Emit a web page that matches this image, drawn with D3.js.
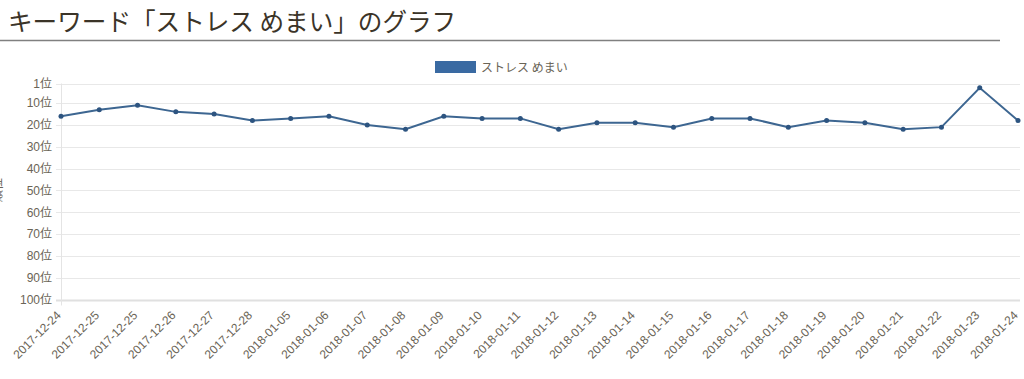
<!DOCTYPE html>
<html>
<head>
<meta charset="utf-8">
<script src="https://cdn.jsdelivr.net/npm/d3@7"></script>
<style>
  html, body { margin: 0; padding: 0; background: #fff; }
  svg { display: block; }
</style>
</head>
<body>
<svg id="chart" width="1024" height="379"></svg>
<script>
const title = "キーワード「ストレス めまい」のグラフ";
const seriesName = "ストレス めまい";
const yAxisTitle = "順位";
const categories = [
  "2017-12-24", "2017-12-25", "2017-12-25", "2017-12-26", "2017-12-27", "2017-12-28",
  "2018-01-05", "2018-01-06", "2018-01-07", "2018-01-08", "2018-01-09", "2018-01-10",
  "2018-01-11", "2018-01-12", "2018-01-13", "2018-01-14", "2018-01-15", "2018-01-16",
  "2018-01-17", "2018-01-18", "2018-01-19", "2018-01-20", "2018-01-21", "2018-01-22",
  "2018-01-23", "2018-01-24"
];
const ranks = [16, 13, 11, 14, 15, 18, 17, 16, 20, 22, 16, 17, 17, 22, 19, 19, 21, 17, 17, 21, 18, 19, 22, 21, 3, 18];
const yTicks = [1, 10, 20, 30, 40, 50, 60, 70, 80, 90, 100];

const svg = d3.select("#chart");
const textColor = "#6a6456";
const lineColor = "#3d6691";
const fontLatin = "'Liberation Sans', 'Noto Sans CJK JP', sans-serif";
const fontCJK = "'Noto Sans CJK JP', sans-serif";

// Title
svg.append("text")
  .attr("x", 8).attr("y", 31)
  .attr("font-family", fontCJK)
  .attr("font-size", 24.6)
  .attr("fill", "#3b3428")
  .text(title);
svg.append("line")
  .attr("x1", 0).attr("x2", 1000)
  .attr("y1", 40.5).attr("y2", 40.5)
  .attr("stroke", "#808080").attr("stroke-width", 1.5);

// Legend
svg.append("rect")
  .attr("x", 435).attr("y", 61).attr("width", 41).attr("height", 12)
  .attr("fill", "#3a6aa2");
svg.append("text")
  .attr("x", 481).attr("y", 71.5)
  .attr("font-family", fontCJK).attr("font-size", 12)
  .attr("fill", textColor)
  .text(seriesName);

// Scales
const x = d3.scalePoint().domain(d3.range(categories.length)).range([61, 1018]);
const y = d3.scaleLinear().domain([1, 100]).range([83.5, 299.5]);

// Grid
const grid = svg.append("g");
grid.selectAll("line.h").data(yTicks).join("line")
  .attr("x1", 56).attr("x2", 1020)
  .attr("y1", d => Math.round(y(d)) + 0.5).attr("y2", d => Math.round(y(d)) + 0.5)
  .attr("stroke", d => d === 100 ? "#e0e0e0" : "#e8e8e8")
  .attr("stroke-width", d => d === 100 ? 2 : 1);
grid.append("line")
  .attr("x1", 61.5).attr("x2", 61.5)
  .attr("y1", y(1)).attr("y2", y(100) + 6)
  .attr("stroke", "#e4e4e4");

// Y axis labels
const yAxis = d3.axisLeft(y).tickValues(yTicks).tickSize(0).tickPadding(0).tickFormat(d => d + "位");
const gy = svg.append("g").attr("transform", "translate(52,0)").call(yAxis);
gy.select(".domain").remove();
gy.selectAll("text")
  .attr("font-family", fontLatin).attr("font-size", 12)
  .attr("fill", textColor);

// Y axis title (mostly outside the left edge, as in the reference)
svg.append("text")
  .attr("transform", "translate(2,190) rotate(-90)")
  .attr("text-anchor", "middle")
  .attr("font-family", fontCJK).attr("font-size", 12)
  .attr("fill", textColor)
  .text(yAxisTitle);

// X axis labels
const xAxis = d3.axisBottom(x).tickSize(0).tickFormat(i => categories[i]);
const gx = svg.append("g").attr("transform", "translate(0,300)").call(xAxis);
gx.select(".domain").remove();
gx.selectAll("text")
  .attr("font-family", fontLatin).attr("font-size", 12)
  .attr("fill", textColor)
  .attr("text-anchor", "end")
  .attr("dy", "0")
  .attr("transform", "translate(-2,14) rotate(-45)");

// Line
const line = d3.line().x((d, i) => x(i)).y(d => y(d));
svg.append("path")
  .datum(ranks)
  .attr("fill", "none")
  .attr("stroke", lineColor)
  .attr("stroke-width", 2)
  .attr("d", line);
svg.append("g").selectAll("circle").data(ranks).join("circle")
  .attr("cx", (d, i) => x(i)).attr("cy", d => y(d))
  .attr("r", 2.5)
  .attr("fill", "#2d5480");
</script>
</body>
</html>
